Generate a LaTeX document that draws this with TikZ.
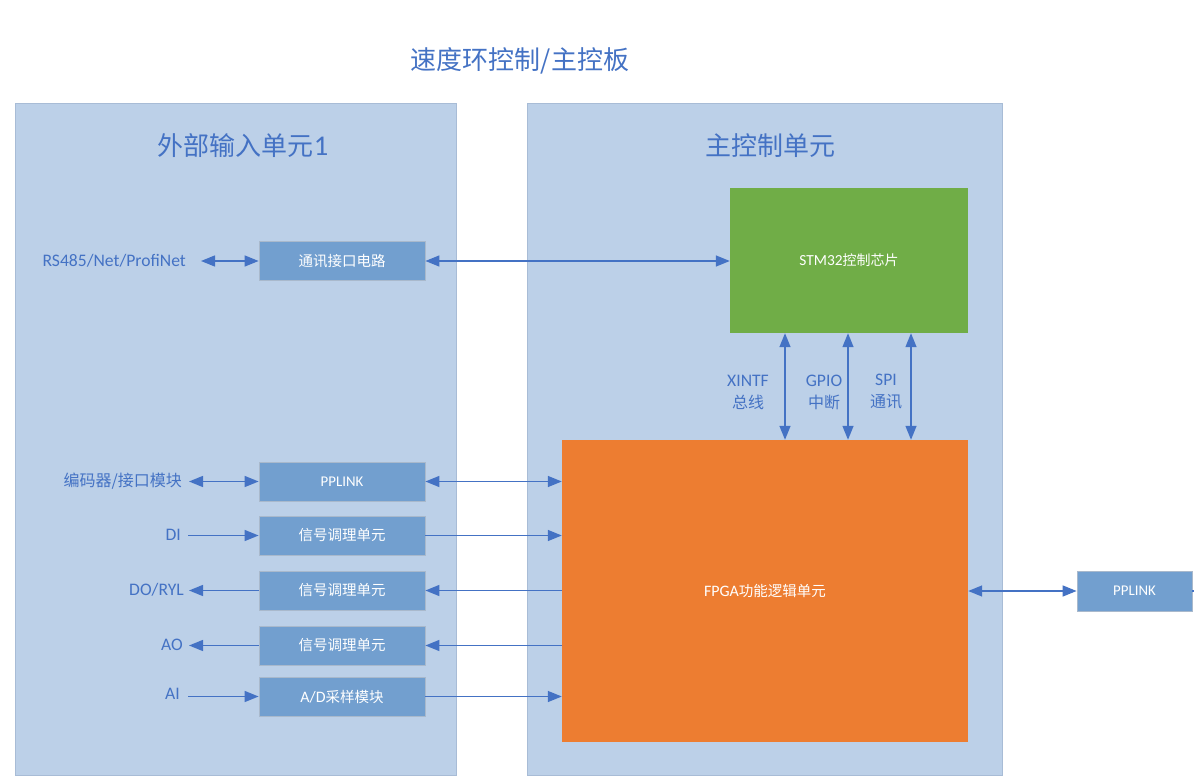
\documentclass[tikz,border=0pt]{standalone}
\usepackage{fontspec}
\setmainfont{Carlito}[Scale=1.1]
\newfontfamily\cjk{Noto Sans CJK SC}
\usetikzlibrary{arrows.meta}
\definecolor{panelfill}{HTML}{BCD0E8}
\definecolor{paneldraw}{HTML}{A8BCD6}
\definecolor{blkfill}{HTML}{729FCF}
\definecolor{blkdraw}{HTML}{A9B9CC}
\definecolor{linec}{HTML}{4472C4}
\definecolor{greenc}{HTML}{70AD47}
\definecolor{orangec}{HTML}{ED7D31}
\tikzset{
  panel/.style={fill=panelfill, draw=paneldraw, line width=0.8pt, inner sep=0pt},
  blk/.style={fill=blkfill, draw=blkdraw, line width=0.8pt, text=white, inner sep=0pt,
     minimum width=166pt, minimum height=39pt, font=\fontsize{14.5}{16}\selectfont},
  lbl/.style={text=linec, inner sep=0pt, font=\fontsize{16}{22}\selectfont, align=center},
  head/.style={text=linec, inner sep=0pt, font=\fontsize{26}{30}\selectfont},
  arr/.style={draw=linec, line width=1.4pt, -{Triangle[length=14pt,width=11pt]}},
  darr/.style={draw=linec, line width=1.4pt, {Triangle[length=14pt,width=11pt]}-{Triangle[length=14pt,width=11pt]}},
}
\begin{document}
\begin{tikzpicture}[x=1pt,y=-1pt]
\useasboundingbox (0,0) rectangle (1194,783);
\fill[white] (0,0) rectangle (1194,783);
% panels
\node[panel, minimum width=441pt, minimum height=672pt] (lp) at (235.5,439) {};
\node[panel, minimum width=475pt, minimum height=672pt] (rp) at (764.5,439) {};
% headings
\node[head] (title) at (520,61) {\cjk 速度环控制/主控板};
\node[head] (lh) at (243,146) {{\cjk 外部输入单元}1};
\node[head] (rh) at (770,146) {\cjk 主控制单元};
% main blocks
\node[fill=greenc, inner sep=0pt, minimum width=238pt, minimum height=145pt, text=white,
  font=\fontsize{14}{16}\selectfont] (stm) at (849,260.5) {STM32{\cjk 控制芯片}};
\node[fill=orangec, inner sep=0pt, minimum width=406pt, minimum height=302pt, text=white,
  font=\fontsize{14.5}{16}\selectfont] (fpga) at (765,591) {FPGA{\cjk 功能逻辑单元}};
% small blocks
\node[blk] (com) at (342,261) {\cjk 通讯接口电路};
\node[blk, font=\fontsize{13.5}{15}\selectfont] (pp1) at (342,481.5) {PPLINK};
\node[blk] (s1) at (342,535.5) {\cjk 信号调理单元};
\node[blk] (s2) at (342,590.5) {\cjk 信号调理单元};
\node[blk] (s3) at (342,645.5) {\cjk 信号调理单元};
\node[blk] (ad) at (342,696.5) {A/D{\cjk 采样模块}};
\node[blk, minimum width=115pt, minimum height=40pt, font=\fontsize{13.5}{15}\selectfont] (pp2) at (1134.5,591) {PPLINK};
% left labels
\node[lbl, anchor=east] (l1) at (186,261) {RS485/Net/ProfiNet};
\node[lbl, anchor=east] (l2) at (182,481) {\cjk 编码器/接口模块};
\node[lbl, anchor=east] (l3) at (181,535) {DI};
\node[lbl, anchor=east] (l4) at (184,590) {DO/RYL};
\node[lbl, anchor=east] (l5) at (183,645) {AO};
\node[lbl, anchor=east] (l6) at (180,694) {AI};
% bus labels
\node[lbl] (b1) at (748,392) {XINTF\\{\cjk 总线}};
\node[lbl] (b2) at (824,392) {GPIO\\{\cjk 中断}};
\node[lbl] (b3) at (886,392) {SPI\\{\cjk 通讯}};
% coordinates for arrow ends
\coordinate (e1) at (201,261);
\coordinate (e2) at (189,481.5);
\coordinate (e3) at (188,535.5);
\coordinate (e4) at (189,590.5);
\coordinate (e5) at (189,645.5);
\coordinate (e6) at (188,696.5);
\coordinate (rend) at (1194,591);
% left arrows
\draw[darr] (e1) -- (com.west);
\draw[darr] (e2) -- (pp1.west);
\draw[arr] (e3) -- (s1.west);
\draw[arr] (s2.west) -- (e4);
\draw[arr] (s3.west) -- (e5);
\draw[arr] (e6) -- (ad.west);
% middle arrows
\draw[darr] (com.east) -- (stm.west |- com.east);
\draw[darr] (pp1.east) -- (fpga.west |- pp1.east);
\draw[arr] (s1.east) -- (fpga.west |- s1.east);
\draw[arr] (fpga.west |- s2.east) -- (s2.east);
\draw[arr] (fpga.west |- s3.east) -- (s3.east);
\draw[arr] (ad.east) -- (fpga.west |- ad.east);
% vertical bus arrows
\draw[darr] (stm.south -| 785,0) -- (fpga.north -| 785,0);
\draw[darr] (stm.south -| 848,0) -- (fpga.north -| 848,0);
\draw[darr] (stm.south -| 911,0) -- (fpga.north -| 911,0);
% right link
\draw[darr] (fpga.east |- pp2.west) -- (pp2.west);
\draw[draw=linec, line width=1.4pt] (pp2.east) -- (rend);
\end{tikzpicture}
\end{document}
